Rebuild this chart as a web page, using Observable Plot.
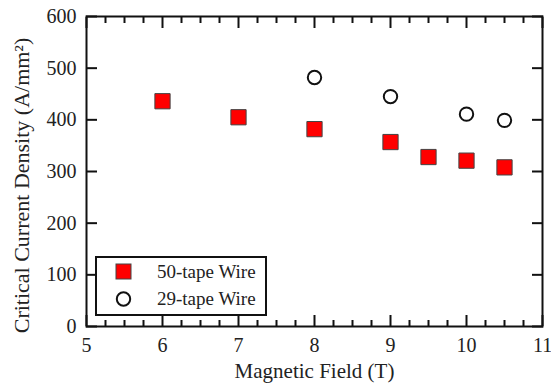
<!DOCTYPE html>
<html>
<head>
<meta charset="utf-8">
<script src="https://cdn.jsdelivr.net/npm/d3@7"></script>
<script src="https://cdn.jsdelivr.net/npm/@observablehq/plot@0.6"></script>
<style>
  html, body { margin: 0; padding: 0; background: #fff; }
  #wrap { position: relative; width: 551px; height: 390px; font-family: 'Liberation Serif'; }
  #legend { position: absolute; left: 95px; top: 256px; width: 172px; height: 60px; box-sizing: border-box;
            border: 2px solid #111; background: #fff; }
  #legend svg { position: absolute; left: 0; top: 0; }
  #legend .lab { position: absolute; left: 60px; font-family: 'Liberation Serif'; font-size: 19px; line-height: 19px; color: #222; white-space: nowrap; }
</style>
</head>
<body>
<div id="wrap"></div>
<script>
// Data
const field50 = [6, 7, 8, 9, 9.5, 10, 10.5];
const jc50 = [436, 405, 382, 357, 328, 321, 308];
const field29 = [8, 9, 10, 10.5];
const jc29 = [482, 445, 411, 399];

const seriesNames = ["50-tape Wire", "29-tape Wire"];
const xMajor = [5, 6, 7, 8, 9, 10, 11];
const xMinor = d3.range(5, 11.0001, 0.25).filter(v => !xMajor.includes(v));
const yMajor = [0, 100, 200, 300, 400, 500, 600];
const xTitle = "Magnetic Field (T)";
const yTitle = "Critical Current Density (A/mm²)";

const d50 = field50.map((x, i) => ({x, y: jc50[i]}));
const d29 = field29.map((x, i) => ({x, y: jc29[i]}));

const blank = () => "";
const ff = "Liberation Serif";

const chart = Plot.plot({
  width: 551,
  height: 390,
  marginLeft: 86,
  marginRight: 9,
  marginTop: 16,
  marginBottom: 64,
  style: {fontFamily: ff, fontSize: "20px", color: "#222", background: "#fff"},
  x: {domain: [5, 11]},
  y: {domain: [0, 600]},
  marks: [
    Plot.frame({stroke: "#111", strokeWidth: 2}),
    Plot.axisX(xMajor, {anchor: "bottom", tickSize: -11, tickPadding: 22, strokeWidth: 2, stroke: "#111",
      fontSize: 20, fontFamily: ff, label: null}),
    Plot.axisX(xMinor, {anchor: "bottom", tickSize: -6, tickFormat: blank, label: null, strokeWidth: 2, stroke: "#111"}),
    Plot.axisX(xMajor, {anchor: "top", tickSize: -11, tickFormat: blank, label: null, strokeWidth: 2, stroke: "#111"}),
    Plot.axisX(xMinor, {anchor: "top", tickSize: -6, tickFormat: blank, label: null, strokeWidth: 2, stroke: "#111"}),
    Plot.axisY(yMajor, {anchor: "left", tickSize: -11, tickPadding: 21, strokeWidth: 2, stroke: "#111",
      fontSize: 20, fontFamily: ff, label: null}),
    Plot.axisY(yMajor, {anchor: "right", tickSize: -11, tickFormat: blank, label: null, strokeWidth: 2, stroke: "#111"}),
    Plot.text([xTitle], {text: d => d, frameAnchor: "bottom", textAnchor: "middle", dy: 51, fontSize: 21, fontFamily: ff, fill: "#222"}),
    Plot.text([yTitle], {text: d => d, frameAnchor: "left", textAnchor: "middle", lineAnchor: "middle", rotate: -90, dx: -65, dy: 14, fontSize: 22, fontFamily: ff, fill: "#222"}),
    Plot.dot(d29, {x: "x", y: "y", r: 6.7, stroke: "#111", strokeWidth: 2, fill: "#fff"}),
    Plot.dot(d50, {x: "x", y: "y", symbol: "square", r: 8.6, fill: "#ff0000", stroke: "#444", strokeWidth: 1})
  ]
});

const wrap = document.getElementById("wrap");
wrap.appendChild(chart);

const legend = document.createElement("div");
legend.id = "legend";
legend.innerHTML = `
  <svg width="168" height="56">
    <rect x="19" y="6" width="15" height="15" fill="#ff0000" stroke="#444" stroke-width="1"></rect>
    <circle cx="26.5" cy="41" r="6.7" fill="#fff" stroke="#111" stroke-width="2"></circle>
  </svg>
  <div class="lab" style="top:4px">${seriesNames[0]}</div>
  <div class="lab" style="top:31px">${seriesNames[1]}</div>`;
wrap.appendChild(legend);
</script>
</body>
</html>
